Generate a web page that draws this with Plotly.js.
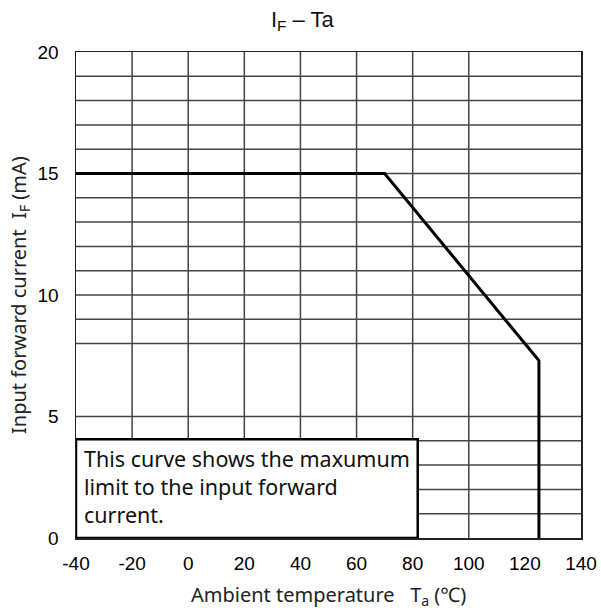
<!DOCTYPE html>
<html>
<head>
<meta charset="utf-8">
<script src="https://cdn.plot.ly/plotly-3.0.1.min.js"></script>
<style>html,body{margin:0;padding:0;background:#fff;}#chart{width:601px;height:615px;}</style>
</head>
<body>
<div id="chart"></div>
<script>
// Derating curve: ambient temperature (°C) vs max input forward current (mA)
const tempX = [-40, 70, 125, 125];
const currentY = [15, 15, 7.3, 0];

// Tick labels
const xTicks = [-40, -20, 0, 20, 40, 60, 80, 100, 120, 140];
const yTicks = [0, 5, 10, 15, 20];

// Grid lines visible in the reference
const xGrid = [-20, 0, 20, 40, 60, 80, 100];
const yGrid = [1, 2, 3, 4, 5, 8, 9, 10, 11, 12, 13, 14, 15, 16, 17, 18, 19];

// Note box extent (data units) and text
const noteBoxX = [-40, 81.8];
const noteBoxY = [0, 4.06];
const noteLines = ["This curve shows the maxumum", "limit to the input forward", "current."];

const gridStyle = {color: '#444', width: 1.5};
const shapes = [];
xGrid.forEach(v => shapes.push({type: 'line', xref: 'x', yref: 'y', x0: v, x1: v, y0: 0, y1: 20, line: gridStyle, layer: 'below'}));
yGrid.forEach(v => shapes.push({type: 'line', xref: 'x', yref: 'y', x0: -40, x1: 140, y0: v, y1: v, line: gridStyle, layer: 'below'}));
shapes.push({type: 'rect', xref: 'x', yref: 'y', x0: noteBoxX[0], x1: noteBoxX[1], y0: noteBoxY[0], y1: noteBoxY[1],
  fillcolor: '#ffffff', line: {color: '#000', width: 2.5}, layer: 'above'});

const tickFont = {family: 'Liberation Sans, Arial, sans-serif', size: 19, color: '#000'};
const textFont = {family: 'Noto Sans, Open Sans, sans-serif', size: 20, color: '#222'};

const data = [{
  x: tempX, y: currentY, type: 'scatter', mode: 'lines',
  line: {color: '#000', width: 3}, hoverinfo: 'skip', showlegend: false
}];

const layout = {
  width: 601, height: 615,
  margin: {l: 76, r: 20, t: 52, b: 77},
  paper_bgcolor: '#fff', plot_bgcolor: '#fff',
  title: {text: 'I<sub>F</sub> – Ta', x: 0.503, xref: 'container', xanchor: 'center', y: 1 - 19 / 615, yanchor: 'middle',
    font: {family: 'Liberation Sans, Arial, sans-serif', size: 22, color: '#111'}},
  xaxis: {range: [-40, 140], tickmode: 'array', tickvals: xTicks, ticktext: xTicks.map(String),
    showgrid: false, zeroline: false, showline: true, mirror: true, linecolor: '#222', linewidth: 1.5,
    ticks: '', ticklabelstandoff: 8, tickfont: tickFont, fixedrange: true},
  yaxis: {range: [0, 20], tickmode: 'array', tickvals: yTicks, ticktext: yTicks.map(String),
    showgrid: false, zeroline: false, showline: true, mirror: true, linecolor: '#222', linewidth: 1.5,
    ticks: '', ticklabelstandoff: 12, tickfont: tickFont, fixedrange: true},
  shapes: shapes,
  annotations: [
    {text: noteLines.join('<br>'), xref: 'x', yref: 'y', x: noteBoxX[0] + 2.3, y: noteBoxY[1] - 0.12,
      xanchor: 'left', yanchor: 'top', align: 'left', showarrow: false,
      font: {family: 'Noto Sans, Open Sans, sans-serif', size: 21.5, color: '#111'}},
    {text: 'Ambient temperature   T<sub>a</sub> (℃)', xref: 'paper', yref: 'paper', x: 0.5, y: 0, yshift: -57,
      xanchor: 'center', yanchor: 'middle', showarrow: false, font: textFont},
    {text: 'Input forward current  I<sub>F</sub> (mA)', xref: 'paper', yref: 'paper', x: 0, y: 0.5, xshift: -57,
      xanchor: 'center', yanchor: 'middle', textangle: -90, showarrow: false, font: textFont}
  ]
};

Plotly.newPlot('chart', data, layout, {displayModeBar: false, staticPlot: true});
</script>
</body>
</html>
